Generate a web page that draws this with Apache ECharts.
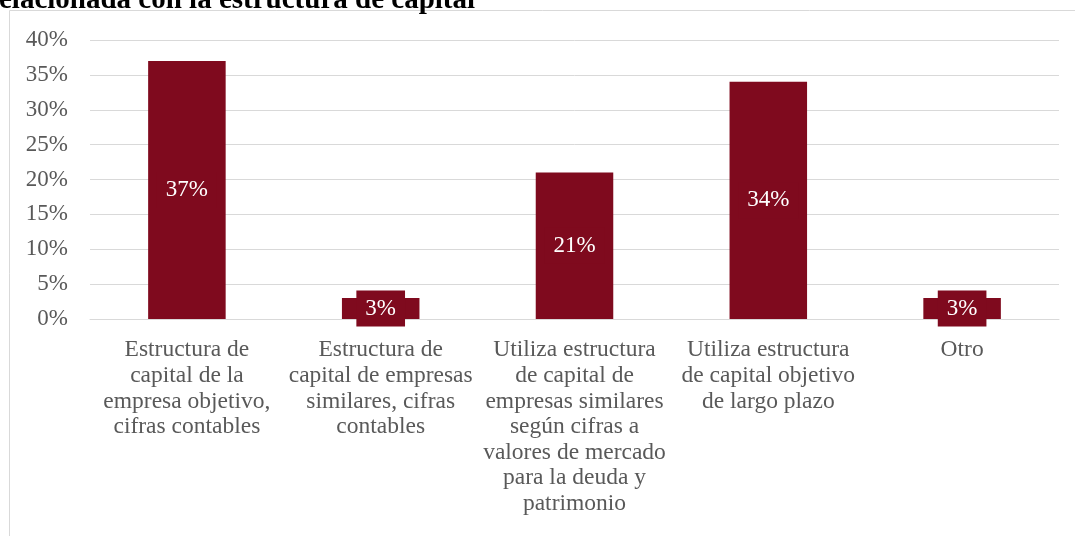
<!DOCTYPE html>
<html>
<head>
<meta charset="utf-8">
<script src="https://cdn.jsdelivr.net/npm/echarts@6/dist/echarts.min.js"></script>
<style>
html,body{margin:0;padding:0;background:#fff;}
#c{width:1075px;height:536px;}
</style>
</head>
<body>
<div id="c"></div>
<script>
const titleText = 'elacionada con la estructura de capital';
const categories = [
  'Estructura de\ncapital de la\nempresa objetivo,\ncifras contables',
  'Estructura de\ncapital de empresas\nsimilares, cifras\ncontables',
  'Utiliza estructura\nde capital de\nempresas similares\nsegún cifras a\nvalores de mercado\npara la deuda y\npatrimonio',
  'Utiliza estructura\nde capital objetivo\nde largo plazo',
  'Otro'
];
const values = [37, 3, 21, 34, 3];
const yMin = 0, yMax = 40, yStep = 5;

const barColor = '#7F0A1E';
const font = '"Liberation Serif", "Times New Roman", serif';

const chart = echarts.init(document.getElementById('c'), null, {renderer: 'canvas'});
chart.setOption({
  animation: false,
  backgroundColor: '#fff',
  graphic: [
    {
      type: 'rect', z: -10,
      shape: {x: 9.5, y: 10.5, width: 1200, height: 800},
      style: {fill: 'none', stroke: '#d9d9d9', lineWidth: 1}
    },
    {
      type: 'text', x: -1, y: 1,
      style: {
        text: titleText,
        font: 'bold 29px ' + font,
        fill: '#000',
        verticalAlign: 'middle'
      }
    }
  ],
  grid: {left: 90, right: 16, top: 40, bottom: 217, containLabel: false},
  xAxis: {
    type: 'category',
    data: categories,
    axisLine: {show: true, lineStyle: {color: '#d9d9d9', width: 1}},
    axisTick: {show: false},
    axisLabel: {
      interval: 0,
      hideOverlap: false,
      margin: 18.5,
      color: '#595959',
      fontFamily: font,
      fontSize: 23.5,
      lineHeight: 25.6,
      align: 'center'
    }
  },
  yAxis: {
    type: 'value',
    min: yMin, max: yMax, interval: yStep,
    axisLine: {show: false},
    axisTick: {show: false},
    splitLine: {lineStyle: {color: '#d9d9d9', width: 1}},
    axisLabel: {
      formatter: '{value}%',
      margin: 22,
      color: '#595959',
      fontFamily: font,
      fontSize: 23,
      padding: [4, 0, 0, 0]
    }
  },
  series: [{
    type: 'bar',
    data: values,
    barWidth: '40%',
    itemStyle: {color: barColor},
    label: {
      show: true,
      position: 'inside',
      formatter: '{c}%',
      color: '#fff',
      fontFamily: font,
      fontSize: 23,
      lineHeight: 24,
      backgroundColor: barColor,
      padding: [10, 9, 2, 9]
    }
  }]
});
</script>
</body>
</html>
